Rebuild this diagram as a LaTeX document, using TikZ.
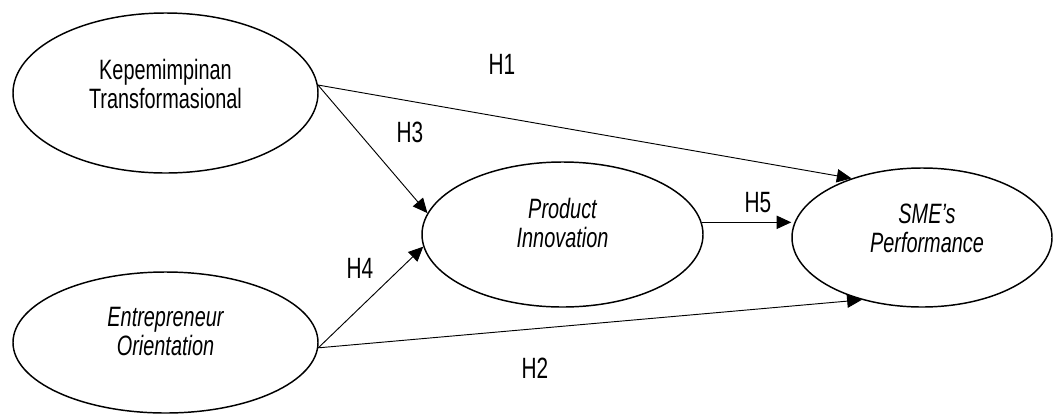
\documentclass[tikz,border=0pt]{standalone}
\usepackage{fontspec}
\setmainfont{Liberation Sans}[FakeStretch=0.71]
\usetikzlibrary{arrows.meta,shapes.geometric}
\begin{document}
\begin{tikzpicture}[x=0.75pt,y=-0.75pt,
    var/.style={draw,ellipse,line width=1.1pt,inner sep=0pt},
    txt/.style={align=center,font=\fontsize{21}{22}\selectfont},
    hyp/.style={font=\fontsize{22}{24}\selectfont},
    link/.style={-{Triangle[length=11pt,width=10pt]},line width=0.7pt}]
    \useasboundingbox (0,0) rectangle (1053,415);
    \node[var,minimum width=228.75pt,minimum height=120pt] (kt) at (165.5,93) {};
    \node[var,minimum width=228.75pt,minimum height=105.75pt] (eo) at (165.5,342.5) {};
    \node[var,minimum width=210.75pt,minimum height=108.75pt] (pi) at (562.5,234.5) {};
    \node[var,minimum width=195pt,minimum height=104.25pt] (sp) at (922,237.5) {};
    \node[txt] (kttext) at ([yshift=7pt]kt.center) {Kepemimpinan\\Transformasional};
    \node[txt] (eotext) at ([yshift=8.5pt]eo.center) {\itshape Entrepreneur\\\itshape Orientation};
    \node[txt] (pitext) at ([yshift=8.5pt]pi.center) {\itshape Product\\\itshape Innovation};
    \node[txt] (sptext) at ([xshift=3.75pt,yshift=7pt]sp.center) {\itshape SME’s\\\itshape Performance};
    \draw[link] (kt.3) -- (sp.140);
    \draw[link] (kt.3) -- (pi.171);
    \draw[link] (eo.-2) -- (pi.185);
    \draw[link] (eo.-2) -- (sp.226);
    \draw[link] (pi.5) -- (pi.5 -| sp.west);
    \node[hyp] (h1) at (502,64) {H1};
    \node[hyp] (h3) at (410,132) {H3};
    \node[hyp] (h4) at (360,268) {H4};
    \node[hyp] (h5) at (758,203) {H5};
    \node[hyp] (h2) at (535,368) {H2};
\end{tikzpicture}
\end{document}
